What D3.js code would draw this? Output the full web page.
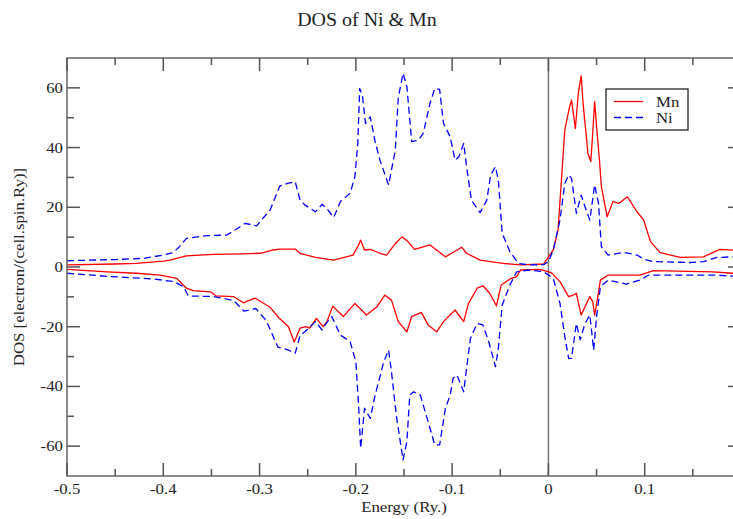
<!DOCTYPE html>
<html>
<head>
<meta charset="utf-8">
<script src="https://cdn.jsdelivr.net/npm/d3@7"></script>
<style>
  html, body { margin: 0; padding: 0; background: #fff; }
  svg { display: block; }
</style>
</head>
<body>
<svg id="chart" width="733" height="519"></svg>
<script>
// ---------------- data ----------------
const title = "DOS of Ni & Mn";
const xLabel = "Energy (Ry.)";
const yLabel = "DOS [electron/(cell.spin.Ry)]";
const seriesNames = ["Mn", "Ni"];
const xDomain = [-0.5, 0.2];
const yDomain = [-70, 70];
const xMajorTicks = [-0.5, -0.4, -0.3, -0.2, -0.1, 0, 0.1, 0.2];
const xTickLabels = ["-0.5", "-0.4", "-0.3", "-0.2", "-0.1", "0", "0.1"];
const xMinorTicks = [-0.45, -0.35, -0.25, -0.15, -0.05, 0.05, 0.15];
const yMajorTicks = [-60, -40, -20, 0, 20, 40, 60];
const yTickLabels = ["-60", "-40", "-20", "0", "20", "40", "60"];
const yMinorTicks = [-50, -30, -10, 10, 30, 50];
const fermiLevel = 0;

// [energy (Ry), DOS]
const mnUp = [
  [-0.500,0.7],[-0.450,1.0],[-0.428,1.2],[-0.400,2.0],[-0.393,2.3],[-0.376,3.7],[-0.348,4.2],
  [-0.317,4.4],[-0.299,4.6],[-0.286,5.7],[-0.279,6.0],[-0.263,6.0],[-0.258,4.6],[-0.242,3.2],
  [-0.223,2.3],[-0.203,4.0],[-0.198,6.8],[-0.195,9.0],[-0.191,5.7],[-0.185,5.9],[-0.175,4.6],
  [-0.168,4.0],[-0.159,7.9],[-0.152,10.1],[-0.146,8.5],[-0.139,5.9],[-0.123,7.4],[-0.107,3.4],
  [-0.090,6.6],[-0.085,4.6],[-0.071,2.3],[-0.047,1.2],[-0.029,0.7],[-0.005,1.0],[0.005,5.7],
  [0.010,12.4],[0.017,45.9],[0.022,53.7],[0.024,55.9],[0.028,46.4],[0.031,58.2],[0.034,64.0],
  [0.036,54.8],[0.041,38.1],[0.044,35.3],[0.046,44.8],[0.048,55.4],[0.050,47.0],[0.053,35.8],
  [0.055,26.9],[0.061,16.8],[0.067,21.9],[0.073,21.3],[0.082,23.5],[0.092,18.5],[0.099,15.7],
  [0.106,8.5],[0.116,4.8],[0.137,3.2],[0.161,3.4],[0.178,5.9],[0.200,5.5]
];
const niUp = [
  [-0.500,2.1],[-0.450,2.5],[-0.420,2.9],[-0.400,4.0],[-0.390,4.8],[-0.384,6.5],[-0.376,9.6],
  [-0.355,10.5],[-0.334,10.7],[-0.325,12.5],[-0.315,14.6],[-0.303,13.8],[-0.296,16.5],
  [-0.289,19.1],[-0.279,27.1],[-0.271,28.0],[-0.263,28.6],[-0.258,22.4],[-0.253,20.8],
  [-0.242,18.5],[-0.235,21.0],[-0.229,19.1],[-0.223,16.6],[-0.216,21.9],[-0.206,24.7],
  [-0.201,30.2],[-0.198,41.4],[-0.196,59.8],[-0.193,57.0],[-0.190,48.1],[-0.185,50.3],
  [-0.180,42.0],[-0.175,35.8],[-0.166,27.5],[-0.159,39.2],[-0.156,56.5],[-0.151,64.9],
  [-0.147,60.4],[-0.142,42.0],[-0.135,42.5],[-0.130,44.8],[-0.123,54.8],[-0.118,59.8],
  [-0.113,59.5],[-0.109,48.1],[-0.102,43.6],[-0.097,35.8],[-0.093,36.9],[-0.088,41.4],
  [-0.085,33.6],[-0.080,22.4],[-0.071,18.2],[-0.064,22.4],[-0.060,30.8],[-0.055,33.6],
  [-0.052,29.1],[-0.048,11.3],[-0.040,5.1],[-0.031,1.2],[-0.020,0.7],[-0.005,0.8],[0.000,1.8],
  [0.005,5.7],[0.012,15.7],[0.017,28.0],[0.021,30.8],[0.024,29.7],[0.029,18.0],[0.034,24.1],
  [0.038,20.2],[0.043,15.7],[0.048,27.5],[0.052,21.3],[0.055,6.8],[0.062,4.0],[0.078,4.9],
  [0.092,4.0],[0.100,2.5],[0.109,1.8],[0.147,1.5],[0.161,1.8],[0.175,3.2],[0.200,3.5]
];
const mnDown = [
  [-0.500,-0.8],[-0.458,-1.6],[-0.428,-2.1],[-0.403,-2.7],[-0.386,-3.8],[-0.376,-7.1],
  [-0.369,-7.9],[-0.351,-8.3],[-0.345,-9.7],[-0.327,-9.9],[-0.317,-12.0],[-0.305,-10.4],
  [-0.289,-13.5],[-0.280,-17.0],[-0.270,-20.0],[-0.264,-25.1],[-0.258,-20.5],[-0.252,-20.0],
  [-0.248,-20.5],[-0.241,-17.2],[-0.234,-20.0],[-0.230,-18.3],[-0.224,-13.1],[-0.213,-16.6],
  [-0.201,-12.2],[-0.189,-16.1],[-0.178,-13.3],[-0.170,-9.4],[-0.163,-11.1],[-0.156,-18.3],
  [-0.147,-21.7],[-0.142,-16.6],[-0.132,-15.2],[-0.125,-19.4],[-0.116,-21.7],[-0.109,-18.3],
  [-0.097,-14.4],[-0.088,-18.3],[-0.083,-12.2],[-0.074,-7.1],[-0.068,-6.3],[-0.061,-8.8],
  [-0.054,-13.0],[-0.049,-6.0],[-0.040,-4.0],[-0.033,-3.2],[-0.029,-1.0],[-0.009,-0.8],
  [0.003,-1.9],[0.012,-4.9],[0.021,-9.9],[0.026,-9.4],[0.029,-8.8],[0.034,-16.1],[0.038,-13.3],
  [0.043,-9.9],[0.046,-11.6],[0.048,-16.1],[0.051,-10.5],[0.054,-4.4],[0.062,-2.7],[0.095,-2.7],
  [0.109,-1.2],[0.171,-1.6],[0.200,-2.3]
];
const niDown = [
  [-0.500,-2.1],[-0.455,-3.2],[-0.410,-4.0],[-0.389,-4.9],[-0.379,-6.6],[-0.374,-9.7],
  [-0.348,-9.9],[-0.327,-11.2],[-0.316,-14.8],[-0.304,-13.9],[-0.293,-18.0],[-0.281,-26.8],
  [-0.270,-27.8],[-0.263,-28.9],[-0.258,-23.0],[-0.253,-21.7],[-0.242,-18.3],[-0.235,-21.1],
  [-0.232,-19.4],[-0.225,-16.6],[-0.216,-22.8],[-0.206,-25.0],[-0.200,-31.7],[-0.197,-47.3],
  [-0.195,-60.7],[-0.191,-47.3],[-0.185,-50.7],[-0.180,-42.9],[-0.176,-38.0],[-0.171,-31.7],
  [-0.166,-27.8],[-0.163,-35.1],[-0.158,-49.6],[-0.151,-64.6],[-0.147,-58.5],[-0.144,-42.9],
  [-0.140,-41.8],[-0.133,-42.9],[-0.125,-51.8],[-0.118,-59.6],[-0.113,-59.6],[-0.107,-47.3],
  [-0.102,-42.9],[-0.099,-37.3],[-0.095,-36.2],[-0.088,-41.8],[-0.085,-33.9],[-0.081,-23.9],
  [-0.074,-18.9],[-0.068,-19.4],[-0.062,-25.0],[-0.055,-33.4],[-0.052,-27.2],[-0.048,-12.7],
  [-0.040,-6.0],[-0.033,-1.6],[-0.020,-1.0],[-0.005,-1.6],[0.005,-3.8],[0.012,-12.2],
  [0.017,-23.3],[0.021,-30.6],[0.024,-30.6],[0.029,-18.9],[0.033,-24.4],[0.038,-18.9],
  [0.043,-16.1],[0.047,-27.8],[0.050,-16.6],[0.054,-6.6],[0.062,-4.4],[0.081,-5.7],[0.095,-4.4],
  [0.104,-2.7],[0.171,-2.7],[0.200,-3.2]
];

// ---------------- layout ----------------
const W = 733, H = 519;
const plot = { left: 67, right: 741, top: 58, bottom: 476 };
const FONT = "'Liberation Serif', 'Times New Roman', serif";
const K = 1.2; // horizontal text stretch
const colMn = "#ff0000", colNi = "#0000ff";

const svg = d3.select("#chart");
svg.append("rect").attr("width", W).attr("height", H).attr("fill", "#fff");

const x = d3.scaleLinear().domain(xDomain).range([plot.left, plot.right]);
const y = d3.scaleLinear().domain(yDomain).range([plot.bottom, plot.top]);

function stext(g, px, py, str, size, k, anchor, rot) {
  return g.append("text")
    .attr("transform", `translate(${px},${py}) rotate(${rot || 0}) scale(${k},1)`)
    .attr("text-anchor", anchor || "middle")
    .attr("font-family", FONT)
    .attr("font-size", size)
    .attr("fill", "#222")
    .text(str);
}

// clip
svg.append("defs").append("clipPath").attr("id", "clip")
  .append("rect").attr("x", plot.left).attr("y", plot.top)
  .attr("width", plot.right - plot.left).attr("height", plot.bottom - plot.top);

// Fermi line
svg.append("line")
  .attr("x1", x(fermiLevel)).attr("x2", x(fermiLevel))
  .attr("y1", plot.top).attr("y2", plot.bottom)
  .attr("stroke", "#777").attr("stroke-width", 1.5);

// curves
const line = d3.line().x(d => x(d[0])).y(d => y(d[1]));
const curves = svg.append("g").attr("clip-path", "url(#clip)");
[[mnUp, colMn, null], [mnDown, colMn, null], [niUp, colNi, "7,4"], [niDown, colNi, "7,4"]]
  .forEach(([data, col, dash]) => {
    curves.append("path").datum(data)
      .attr("d", line)
      .attr("fill", "none")
      .attr("stroke", col)
      .attr("stroke-width", 1.3)
      .attr("stroke-linejoin", "round")
      .attr("stroke-dasharray", dash);
  });

// frame
svg.append("rect")
  .attr("x", plot.left).attr("y", plot.top)
  .attr("width", plot.right - plot.left).attr("height", plot.bottom - plot.top)
  .attr("fill", "none").attr("stroke", "#666").attr("stroke-width", 1.5);

// ticks (inward on all sides)
const tk = svg.append("g").attr("stroke", "#555").attr("stroke-width", 1.5);
const MAJ = 13, MIN = 7;
function xTicks(vals, len) {
  vals.forEach(v => {
    const px = x(v);
    tk.append("line").attr("x1", px).attr("x2", px).attr("y1", plot.bottom).attr("y2", plot.bottom - len);
    tk.append("line").attr("x1", px).attr("x2", px).attr("y1", plot.top).attr("y2", plot.top + len);
  });
}
function yTicks(vals, len) {
  vals.forEach(v => {
    const py = y(v);
    tk.append("line").attr("y1", py).attr("y2", py).attr("x1", plot.left).attr("x2", plot.left + len);
    tk.append("line").attr("y1", py).attr("y2", py).attr("x1", plot.right).attr("x2", plot.right - len);
  });
}
xTicks(xMajorTicks, MAJ); xTicks(xMinorTicks, MIN);
yTicks(yMajorTicks, MAJ); yTicks(yMinorTicks, MIN);

// tick labels
const lab = svg.append("g");
xTickLabels.forEach((t, i) => stext(lab, x(xMajorTicks[i]), 494, t, 14, K, "middle"));
yTickLabels.forEach((t, i) => stext(lab, 63, y(yMajorTicks[i]) + 5, t, 14, K, "end"));

// axis titles
stext(svg, (plot.left + plot.right) / 2, 512, xLabel, 14, K, "middle");
stext(svg, 24, (plot.top + plot.bottom) / 2, yLabel, 14, K, "middle", -90);
stext(svg, 367, 26, title, 19, 1.05, "middle");

// legend
const lg = svg.append("g");
lg.append("rect").attr("x", 606).attr("y", 89).attr("width", 82).attr("height", 41)
  .attr("fill", "#fff").attr("stroke", "#111").attr("stroke-width", 1.2);
[[seriesNames[0], colMn, null, 101.5], [seriesNames[1], colNi, "7,4", 117.5]].forEach(([name, col, dash, ly]) => {
  lg.append("line").attr("x1", 614).attr("x2", 643).attr("y1", ly).attr("y2", ly)
    .attr("stroke", col).attr("stroke-width", 1.3).attr("stroke-dasharray", dash);
  stext(lg, 656, ly + 5, name, 14, K, "start");
});
</script>
</body>
</html>
